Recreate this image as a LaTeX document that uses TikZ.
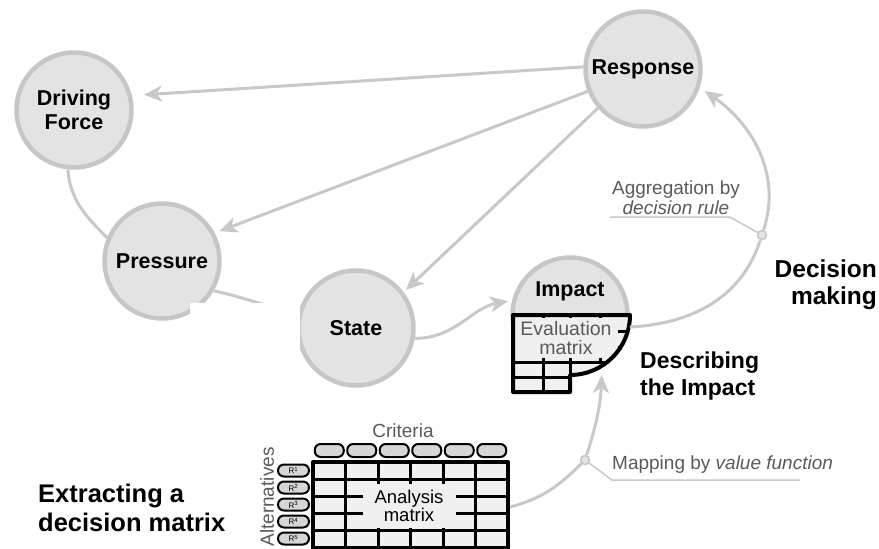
\documentclass[tikz,border=0pt]{standalone}
\usepackage{fontspec}
\setmainfont{Liberation Sans}
\usetikzlibrary{arrows.meta}

\definecolor{ringgray}{HTML}{C6C6C6}
\definecolor{discgray}{HTML}{E3E3E3}
\definecolor{linkgray}{HTML}{C8C8C8}
\definecolor{cellgray}{HTML}{F0F0F0}
\definecolor{pillgray}{HTML}{D6D6D6}
\definecolor{notegray}{HTML}{5A5A5A}

\tikzset{
  stage/.style={circle,draw=ringgray,fill=discgray,line width=4.5pt,minimum size=115pt,
    inner sep=0pt,align=center,font=\bfseries\fontsize{21.5}{24}\selectfont},
  link/.style={draw=linkgray,line width=3pt},
  flow/.style={link,-{Stealth[length=18pt,width=16pt,inset=5pt]}},
  junction/.style={circle,draw=ringgray,fill=discgray,line width=1.5pt,minimum size=9pt,inner sep=0pt},
  leader/.style={draw=linkgray,line width=1.5pt},
  note/.style={text=notegray,align=center,inner sep=0pt,font=\fontsize{19}{20}\selectfont},
  heading/.style={inner sep=0pt,font=\bfseries\fontsize{23}{27}\selectfont},
  frame/.style={draw=black,line width=4pt,line join=round},
  grid/.style={draw=black,line width=3pt},
  pill/.style={draw=black,fill=pillgray,line width=2pt,rounded corners=6pt,inner sep=0pt},
  cover/.style={fill=cellgray,align=center,inner sep=0pt}
}

\begin{document}
\begin{tikzpicture}[x=1pt,y=-1pt]
\useasboundingbox (0,0) rectangle (879,549);

\node[stage] (df) at (74,110) {Driving\\Force};
\node[stage] (pres) at (162,261) {Pressure};
\node[stage] (state) at (356,328) {State};
\node[stage] (resp) at (643,69) {Response};
\node[stage] (impact) at (570,315) {};

\draw[link] (df.-96) to[out=-85,in=135] (pres.157);
\draw[link] (pres.-30) to[out=-12,in=170] (state.165);
\draw[flow,shorten >=12pt] (resp.178) -- (df.14);
\draw[flow,shorten >=5pt] (resp.202) -- (pres.28);
\draw[flow,shorten >=3pt] (resp.221) -- (state.37);
\draw[flow,shorten >=4pt] (state.-10) to[out=0,in=190] (impact.166);

\fill[white] (190,303) rectangle (300,358);

% evaluation matrix on the impact disc
\node[font=\bfseries\fontsize{21.5}{24}\selectfont] (implbl) at (570,291) {Impact};
\fill[cellgray] (513,315) -- (630,315) arc[start angle=0,end angle=-90,radius=60pt] -- (570,392) -- (513,392) -- cycle;
\draw[grid] (513,331) -- (627.8,331) (513,347) -- (620.8,347) (513,362) -- (607.3,362) (513,377) -- (570,377);
\draw[grid] (543,315) -- (543,392) (570,315) -- (570,392) (600,315) -- (600,362);
\node[cover,text=notegray,font=\fontsize{19.5}{19}\selectfont,minimum width=104pt,minimum height=40pt] (evaltxt) at (566,338) {Evaluation\\matrix};
\draw[frame] (513,315) -- (630,315) arc[start angle=0,end angle=-90,radius=60pt] -- (570,392) -- (513,392) -- cycle;

% analysis matrix
\fill[cellgray] (313,462) rectangle (508,552);
\foreach \i in {1,...,5}
  \draw[grid] (313,462+17*\i) -- (508,462+17*\i);
\foreach \j in {1,...,5}
  \draw[grid] (313+32.5*\j,462) -- (313+32.5*\j,552);
\node[cover,font=\fontsize{18.5}{18}\selectfont,minimum width=93pt,minimum height=44pt] (anatxt) at (409,506) {Analysis\\matrix};
\draw[frame] (313,552) -- (313,462) -- (508,462) -- (508,552);
\foreach \j in {0,...,5}
  \node[pill,minimum width=29pt,minimum height=13pt] (crit\j) at (329.25+32.5*\j,450.5) {};
\foreach \i in {1,...,5}
  \node[pill,minimum width=31pt,minimum height=12pt,font=\fontsize{8}{8}\selectfont] (alt\i) at (293.5,453.5+17*\i) {R\textsuperscript{\i}};
\node[note] (crit) at (403,431) {Criteria};
\node[note,rotate=90] (alts) at (267,497) {Alternatives};

% decision making loop
\coordinate (evalout) at (630,327);
\node[junction] (aggdot) at (762,235) {};
\draw[flow,shorten >=6pt] (evalout) to[out=3,in=-108] (aggdot) to[out=72,in=-35] (resp.-18);
\node[note] (agg) at (676,198) {Aggregation by\\\textit{decision rule}};
\draw[leader] (610,217) -- (730,217) -- (aggdot);

% mapping into the impact
\coordinate (anaout) at (510,507);
\coordinate (evalin) at (602,366);
\node[junction] (mapdot) at (585,460) {};
\draw[flow,shorten >=9pt] (anaout) to[out=15,in=-135] (mapdot) to[out=72,in=-92] (evalin);
\node[note,anchor=west] (map) at (612,465) {Mapping by \textit{value function}};
\draw[leader] (mapdot) -- (612,480) -- (800,480);

\node[heading,align=left,anchor=west,font=\bfseries\fontsize{25.5}{29}\selectfont] (extract) at (38,508) {Extracting a\\decision matrix};
\node[heading,align=left,anchor=west] (describe) at (640,376) {Describing\\the Impact};
\node[heading,align=right,anchor=east,font=\bfseries\fontsize{24.5}{27}\selectfont] (decide) at (877,285) {Decision\\making};
\end{tikzpicture}
\end{document}
